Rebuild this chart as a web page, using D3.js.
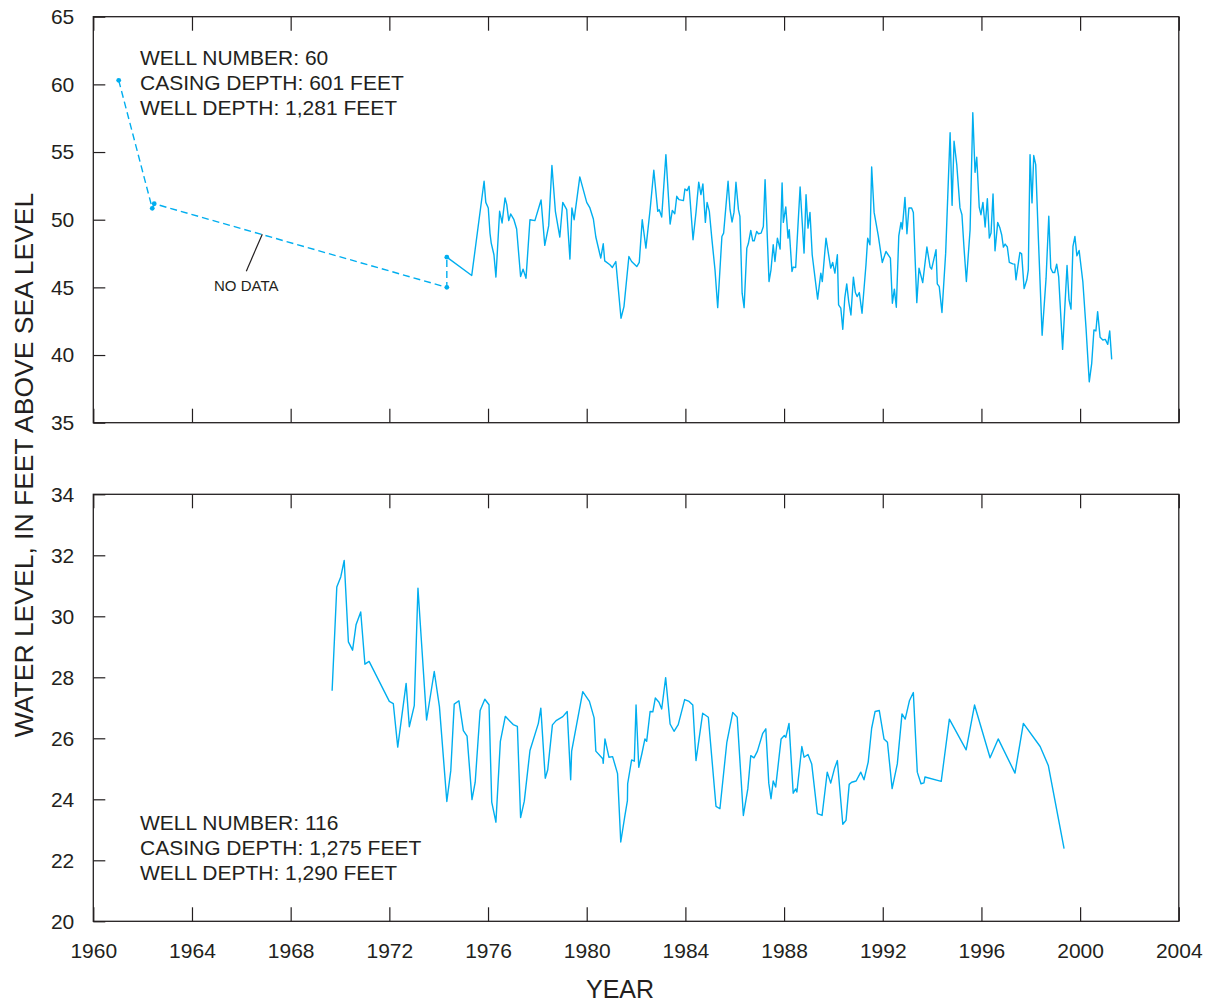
<!DOCTYPE html>
<html>
<head>
<meta charset="utf-8">
<script src="https://cdn.jsdelivr.net/npm/d3@7"></script>
<style>
  html, body { margin: 0; padding: 0; background: #fff; }
  svg { display: block; }
  text { font-family: "Liberation Sans", Arial, Helvetica, sans-serif; fill: #231F20; }
</style>
</head>
<body>
<svg id="chart" width="1209" height="1002"></svg>
<script>
// ---------------- DATA ----------------
const xTickYears = [1960,1964,1968,1972,1976,1980,1984,1988,1992,1996,2000,2004];
const topTicks = [35,40,45,50,55,60,65];
const bottomTicks = [20,22,24,26,28,30,32,34];

const well60Labels = ["WELL NUMBER: 60", "CASING DEPTH: 601 FEET", "WELL DEPTH: 1,281 FEET"];
const well116Labels = ["WELL NUMBER: 116", "CASING DEPTH: 1,275 FEET", "WELL DEPTH: 1,290 FEET"];
const noDataLabel = "NO DATA";

// Well 60: sparse early measurements (dashed, no continuous data)
const well60GapYears  = [1961.03, 1962.39, 1962.47, 1974.33, 1974.33];
const well60GapLevels = [60.3, 50.84, 51.18, 45.0, 47.23];

// Well 60: continuous record
const well60Years = [
1974.33,1975.34,1975.84,1975.91,1976.01,1976.08,1976.13,1976.24,1976.32,1976.47,1976.57,1976.69,1976.76,1976.84,1976.92,
1977.05,1977.16,1977.32,1977.42,1977.54,1977.70,1977.90,1978.15,1978.30,1978.46,1978.59,1978.73,1978.91,1979.03,1979.19,
1979.32,1979.40,1979.49,1979.72,1980.00,1980.13,1980.27,1980.37,1980.57,1980.67,1980.73,1980.94,1981.04,1981.18,1981.39,
1981.51,1981.71,1981.82,1982.03,1982.13,1982.25,1982.40,1982.57,1982.72,1982.88,1982.94,1983.04,1983.21,1983.38,1983.47,
1983.57,1983.65,1983.74,1983.92,1983.98,1984.07,1984.15,1984.31,1984.43,1984.54,1984.63,1984.71,1984.81,1984.88,1984.97,
1985.07,1985.20,1985.31,1985.48,1985.55,1985.73,1985.81,1985.89,1985.97,1986.05,1986.15,1986.21,1986.30,1986.38,1986.49,
1986.55,1986.65,1986.73,1986.79,1986.89,1986.96,1987.07,1987.16,1987.23,1987.39,1987.47,1987.56,1987.63,1987.73,1987.84,
1987.92,1987.97,1988.07,1988.16,1988.21,1988.32,1988.37,1988.47,1988.65,1988.81,1988.89,1988.97,1989.05,1989.14,1989.36,
1989.49,1989.55,1989.70,1989.89,1989.97,1990.06,1990.16,1990.21,1990.30,1990.38,1990.46,1990.54,1990.62,1990.71,1990.81,
1990.89,1990.96,1991.05,1991.16,1991.32,1991.39,1991.48,1991.55,1991.65,1991.82,1991.98,1992.13,1992.31,1992.39,1992.47,
1992.55,1992.65,1992.74,1992.79,1992.90,1992.98,1993.06,1993.17,1993.24,1993.38,1993.47,1993.62,1993.79,1993.92,1993.98,
1994.16,1994.21,1994.29,1994.40,1994.55,1994.73,1994.81,1994.89,1995.00,1995.13,1995.21,1995.29,1995.39,1995.54,1995.65,
1995.74,1995.81,1995.91,1995.98,1996.06,1996.15,1996.24,1996.32,1996.39,1996.47,1996.55,1996.66,1996.75,1996.82,1996.89,
1996.96,1997.05,1997.13,1997.27,1997.35,1997.40,1997.50,1997.56,1997.63,1997.73,1997.84,1997.90,1997.97,1998.05,1998.12,
1998.20,1998.31,1998.46,1998.62,1998.73,1998.81,1998.89,1998.97,1999.05,1999.13,1999.29,1999.47,1999.55,1999.63,1999.71,
1999.79,1999.87,1999.96,2000.11,2000.24,2000.37,2000.47,2000.56,2000.64,2000.71,2000.81,2000.92,2001.02,2001.12,2001.20,
2001.28];
const well60Levels = [
47.23,45.88,52.84,51.28,50.87,49.0,48.27,47.41,45.76,50.62,49.76,51.61,51.11,49.93,50.42,
50.0,49.31,45.8,46.35,45.68,50.0,49.93,51.46,48.1,49.56,54.0,50.62,48.72,51.28,50.74,
47.09,50.87,50.0,53.16,51.28,50.87,50.05,48.72,47.16,48.22,46.96,46.67,46.47,46.91,42.72,
43.58,47.28,46.91,46.54,46.84,50.0,47.9,50.74,53.65,50.62,50.74,50.2,54.81,49.68,50.69,
50.44,51.73,51.48,51.41,52.27,52.15,52.47,48.52,50.54,52.77,51.85,52.64,49.8,51.28,50.62,
48.64,46.3,43.5,48.76,49.01,52.84,50.74,49.83,50.54,52.77,50.74,50.25,44.57,43.5,47.9,
48.22,49.21,48.44,48.44,49.14,48.96,49.01,49.5,52.96,45.43,46.3,48.15,46.91,48.64,47.83,
52.72,49.8,50.94,48.64,49.26,46.17,46.5,46.47,52.42,47.53,51.85,49.38,50.54,47.41,44.13,
46.05,45.43,48.64,46.42,46.84,46.05,47.41,43.7,43.46,41.9,44.2,45.26,43.95,42.96,45.76,
44.62,44.32,44.62,43.09,46.67,48.64,48.15,53.9,50.54,48.81,46.84,47.65,47.16,43.83,44.87,
43.53,48.81,49.8,49.31,51.65,48.96,50.87,50.87,50.54,43.87,46.42,45.35,47.98,46.5,46.35,
47.78,45.26,45.06,43.14,47.53,56.42,51.06,55.8,54.07,50.87,50.37,48.02,45.43,49.26,57.9,
53.5,54.61,50.94,50.37,51.28,49.46,51.56,48.64,49.01,51.9,47.7,49.8,49.38,48.89,47.98,
48.2,47.98,46.84,46.74,46.72,45.56,46.84,47.58,47.48,44.91,45.56,46.3,54.81,51.24,54.74,
54.07,48.52,41.46,45.68,50.25,46.42,46.1,46.1,46.72,45.8,40.42,46.62,44.07,43.39,48.02,
48.76,47.33,47.73,45.43,41.98,38.02,39.39,41.85,41.78,43.21,41.31,41.11,41.16,40.79,41.78,
39.68];

// Well 116: continuous record
const well116Years = [
1969.68,1969.87,1970.03,1970.17,1970.34,1970.51,1970.65,1970.84,1971.01,1971.18,1972.00,1972.16,1972.34,1972.68,1972.81,
1973.01,1973.16,1973.51,1973.82,1974.03,1974.33,1974.49,1974.63,1974.82,1975.00,1975.15,1975.35,1975.48,1975.68,1975.87,
1976.04,1976.15,1976.32,1976.50,1976.70,1977.02,1977.19,1977.32,1977.47,1977.70,1978.04,1978.14,1978.32,1978.42,1978.61,
1978.76,1979.03,1979.21,1979.35,1979.39,1979.59,1979.84,1980.11,1980.30,1980.37,1980.65,1980.67,1980.74,1980.90,1981.05,
1981.25,1981.38,1981.55,1981.65,1981.66,1981.82,1981.93,1982.00,1982.11,1982.24,1982.36,1982.43,1982.57,1982.68,1982.78,
1982.93,1983.04,1983.20,1983.38,1983.54,1983.71,1983.97,1984.15,1984.30,1984.43,1984.70,1984.93,1985.24,1985.40,1985.68,
1985.92,1986.10,1986.35,1986.53,1986.65,1986.78,1986.92,1987.13,1987.26,1987.38,1987.47,1987.56,1987.66,1987.88,1988.01,
1988.07,1988.20,1988.37,1988.47,1988.52,1988.72,1988.81,1988.97,1989.12,1989.35,1989.54,1989.75,1989.89,1990.05,1990.16,
1990.38,1990.51,1990.64,1990.74,1990.92,1991.11,1991.24,1991.41,1991.55,1991.69,1991.86,1992.05,1992.19,1992.38,1992.59,
1992.78,1992.91,1993.08,1993.24,1993.40,1993.55,1993.67,1993.71,1994.37,1994.70,1995.38,1995.72,1996.35,1996.68,1997.36,
1997.70,1998.38,1998.71,1999.35];
const well116Levels = [
27.56,30.96,31.29,31.83,29.16,28.89,29.72,30.14,28.43,28.52,27.21,27.14,25.71,27.8,26.38,
27.07,30.92,26.6,28.19,27.04,23.93,24.94,27.12,27.23,26.25,26.07,23.99,24.56,26.91,27.28,
27.1,23.91,23.25,25.9,26.72,26.45,26.39,23.4,23.94,25.6,26.49,26.99,24.69,24.97,26.44,
26.58,26.71,26.88,24.64,25.58,26.45,27.53,27.21,26.67,25.58,25.33,25.18,25.98,25.38,25.4,
24.84,22.6,23.47,23.96,24.51,25.29,25.25,27.09,25.05,25.51,25.98,25.9,26.88,26.87,27.32,
27.18,26.96,27.99,26.47,26.23,26.45,27.27,27.21,27.09,25.27,26.82,26.69,23.77,23.69,25.87,
26.85,26.69,23.47,24.34,25.43,25.36,25.58,26.15,26.31,24.53,24.02,24.6,24.4,25.98,26.09,
26.03,26.49,24.2,24.34,24.24,25.73,25.38,25.47,25.16,23.53,23.47,24.89,24.53,25.03,25.27,
23.18,23.31,24.49,24.56,24.6,24.89,24.64,25.22,26.33,26.88,26.91,25.98,25.87,24.35,25.16,
26.8,26.63,27.23,27.5,24.89,24.51,24.54,24.73,24.59,26.63,25.62,27.09,25.36,25.98,24.86,
26.49,25.73,25.11,22.38];

// "NO DATA" annotation anchor (year, level) and label position
const noDataPointer = [1966.85, 48.93];
const noDataText = [1966.2, 45.1];

// ---------------- LAYOUT ----------------
const INK = "#231F20";
const LINE = "#00AEEF";
const left = 93.3, right = 1178.8;
const topPanel = { y0: 16.7, y1: 422.7, domain: [35, 65], ticks: topTicks };
const botPanel = { y0: 494.3, y1: 921.3, domain: [20, 34], ticks: bottomTicks };

const svg = d3.select("#chart");
const x = d3.scaleLinear().domain([1960, 2004]).range([left, right]);

function drawPanel(p) {
  const y = d3.scaleLinear().domain(p.domain).range([p.y1, p.y0]);
  const g = svg.append("g");
  // frame
  g.append("rect").attr("x", left).attr("y", p.y0)
    .attr("width", right - left).attr("height", p.y1 - p.y0)
    .attr("fill", "none").attr("stroke", INK).attr("stroke-width", 1.3);
  // x ticks (inward, top and bottom)
  const xb = d3.axisBottom(x).tickValues(xTickYears).tickSize(-14).tickFormat("");
  const xt = d3.axisTop(x).tickValues(xTickYears).tickSize(-14).tickFormat("");
  [g.append("g").attr("transform", `translate(0,${p.y1})`).call(xb),
   g.append("g").attr("transform", `translate(0,${p.y0})`).call(xt)].forEach(a => {
    a.select(".domain").remove();
    a.selectAll("line").attr("stroke", INK).attr("stroke-width", 1.2);
  });
  // y axis (ticks inward, labels outside)
  const ya = d3.axisLeft(y).tickValues(p.ticks).tickSize(-12).tickPadding(19).tickFormat(d3.format("d"));
  const yg = g.append("g").attr("transform", `translate(${left},0)`).call(ya);
  yg.select(".domain").remove();
  yg.selectAll("line").attr("stroke", INK).attr("stroke-width", 1.2);
  yg.selectAll("text").attr("font-size", 21).attr("fill", INK)
    .attr("font-family", '"Liberation Sans", Arial, Helvetica, sans-serif');
  return y;
}

const yTop = drawPanel(topPanel);
const yBot = drawPanel(botPanel);

// x tick labels below bottom panel
const xl = d3.axisBottom(x).tickValues(xTickYears).tickSize(0).tickPadding(22).tickFormat(d3.format("d"));
const xlg = svg.append("g").attr("transform", `translate(0,${botPanel.y1})`).call(xl);
xlg.select(".domain").remove();
xlg.selectAll("text").attr("font-size", 21).attr("fill", INK)
  .attr("font-family", '"Liberation Sans", Arial, Helvetica, sans-serif');

// ---------------- SERIES ----------------
const lineTop = d3.line().x(d => x(d[0])).y(d => yTop(d[1]));
const lineBot = d3.line().x(d => x(d[0])).y(d => yBot(d[1]));

const gapData = well60GapYears.map((yr, i) => [yr, well60GapLevels[i]]);
const w60 = well60Years.map((yr, i) => [yr, well60Levels[i]]);
const w116 = well116Years.map((yr, i) => [yr, well116Levels[i]]);

svg.append("path").datum(gapData).attr("d", lineTop)
  .attr("fill", "none").attr("stroke", LINE).attr("stroke-width", 1.4)
  .attr("stroke-dasharray", "7,4");
svg.selectAll("circle.gap").data(gapData).enter().append("circle")
  .attr("class", "gap").attr("cx", d => x(d[0])).attr("cy", d => yTop(d[1]))
  .attr("r", 2.4).attr("fill", LINE);

svg.append("path").datum(w60).attr("d", lineTop)
  .attr("fill", "none").attr("stroke", LINE).attr("stroke-width", 1.4)
  .attr("stroke-linejoin", "round");
svg.append("path").datum(w116).attr("d", lineBot)
  .attr("fill", "none").attr("stroke", LINE).attr("stroke-width", 1.4)
  .attr("stroke-linejoin", "round");

// NO DATA annotation
svg.append("line")
  .attr("x1", x(noDataPointer[0])).attr("y1", yTop(noDataPointer[1]))
  .attr("x2", x(noDataPointer[0]) - 16).attr("y2", yTop(noDataPointer[1]) + 37)
  .attr("stroke", INK).attr("stroke-width", 1.2);
svg.append("text").attr("x", x(noDataText[0])).attr("y", yTop(noDataText[1]) + 5)
  .attr("text-anchor", "middle").attr("font-size", 15).text(noDataLabel);

// well labels
function wellLabel(lines, yBase) {
  svg.append("g").selectAll("text").data(lines).enter().append("text")
    .attr("x", 140).attr("y", (d, i) => yBase + i * 25)
    .attr("font-size", 21).text(d => d);
}
wellLabel(well60Labels, 65.2);
wellLabel(well116Labels, 830.2);

// axis titles
svg.append("text").attr("x", 620).attr("y", 998)
  .attr("text-anchor", "middle").attr("font-size", 25).text("YEAR");
svg.append("text").attr("transform", "translate(33,465) rotate(-90)")
  .attr("text-anchor", "middle").attr("font-size", 26.5)
  .text("WATER LEVEL, IN FEET ABOVE SEA LEVEL");
</script>
</body>
</html>
